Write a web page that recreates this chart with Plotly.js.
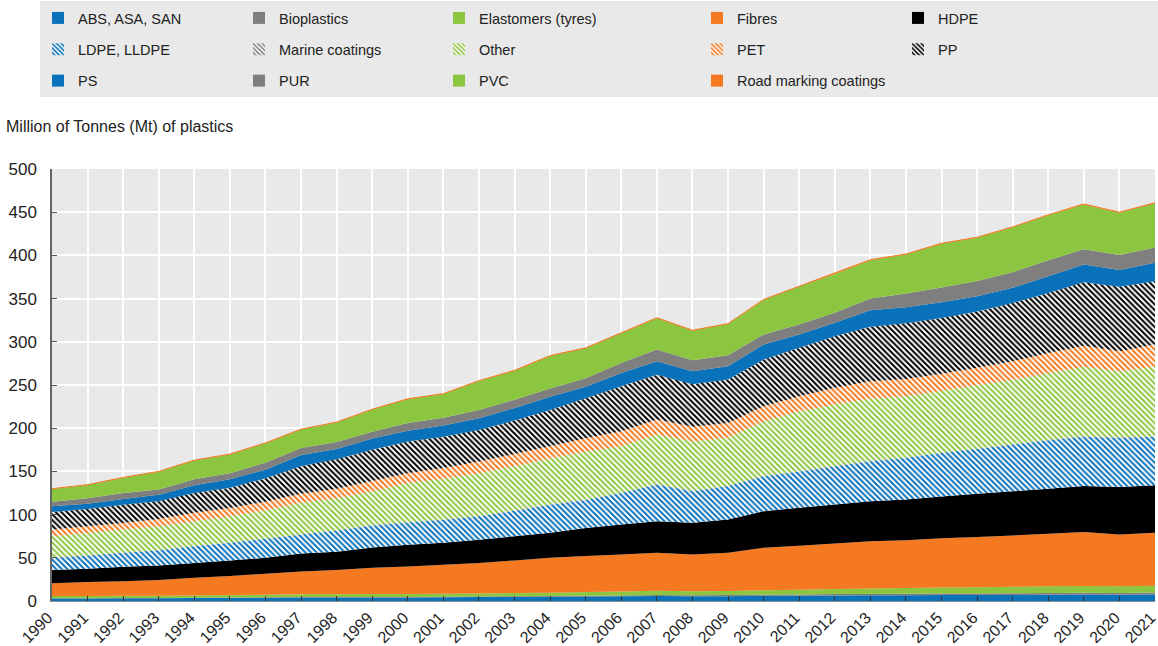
<!DOCTYPE html>
<html>
<head>
<meta charset="utf-8">
<script src="https://cdn.plot.ly/plotly-3.0.1.min.js"></script>
<style>html,body{margin:0;padding:0;background:#fff;}#chart{width:1158px;height:646px;}</style>
</head>
<body>
<div id="chart"></div>
<script>
var years = [1990,1991,1992,1993,1994,1995,1996,1997,1998,1999,2000,2001,2002,2003,2004,2005,2006,2007,2008,2009,2010,2011,2012,2013,2014,2015,2016,2017,2018,2019,2020,2021];

var absAsaSan   = [3.0,3.0,3.2,3.2,3.4,3.6,3.8,4.0,4.0,4.1,4.1,4.3,4.5,4.7,4.9,5.2,5.5,5.9,5.6,5.6,6.0,6.2,6.5,6.6,6.7,6.8,6.9,7.0,7.2,7.4,7.1,7.4];
var bioplastics = [0.3,0.3,0.3,0.3,0.4,0.4,0.4,0.5,0.5,0.5,0.6,0.6,0.7,0.7,0.8,0.9,1.0,1.1,1.1,1.2,1.3,1.4,1.5,1.6,1.7,1.8,1.9,2.0,2.1,2.2,2.2,2.3];
var elastomers  = [2.5,2.5,2.7,2.7,2.7,3.0,3.1,3.2,3.2,3.4,3.3,3.6,3.6,3.8,3.9,4.3,4.5,5.0,4.7,4.8,5.2,5.4,6.0,6.3,6.6,6.9,7.2,7.5,7.7,7.9,7.7,8.0];
var fibres      = [14.6,16.2,16.8,18.0,20.5,22.0,24.2,26.3,28.3,30.5,32.0,33.5,35.2,37.8,40.4,41.6,42.8,43.8,42.4,44.2,49.1,51.0,52.5,54.7,55.4,57.2,58.0,59.3,60.7,62.5,60.0,61.3];
var hdpe        = [15.4,15.3,16.6,16.8,17.0,18.0,18.5,21.0,21.0,23.5,25.0,25.5,27.0,28.0,29.0,32.6,34.7,36.6,36.7,38.5,42.4,44.0,45.2,46.3,47.1,48.3,50.0,51.2,52.3,53.0,55.0,55.0];
var ldpe        = [14.2,15.4,16.2,17.8,19.5,20.3,22.0,22.0,24.5,25.5,26.0,26.5,27.0,29.5,32.5,32.4,36.5,42.4,36.5,38.7,40.5,42.0,44.3,46.3,48.2,50.5,52.0,54.0,56.0,57.0,57.0,56.0];
var marine      = [0.3,0.3,0.3,0.3,0.3,0.3,0.3,0.4,0.4,0.4,0.4,0.4,0.4,0.4,0.4,0.4,0.4,0.5,0.5,0.5,0.5,0.5,0.5,0.5,0.5,0.5,0.5,0.5,0.5,0.6,0.6,0.5];
var other       = [24.7,26.0,26.6,27.4,28.5,30.4,32.7,36.6,37.1,39.1,45.1,47.1,49.6,51.1,53.1,55.6,53.6,57.4,57.5,55.5,63.0,69.2,70.9,72.1,70.8,71.0,73.5,74.5,77.5,80.4,76.4,81.0];
var pet         = [7.7,7.5,7.7,8.5,9.7,9.7,10.0,10.0,11.0,12.0,11.5,12.5,13.5,14.0,14.0,15.5,17.5,17.3,16.6,17.0,17.5,17.3,19.3,20.0,20.0,20.0,20.0,21.5,23.0,24.5,23.0,25.5];
var pp          = [20.3,20.0,21.1,20.4,23.0,23.3,27.0,32.0,34.0,36.0,36.6,36.0,36.5,39.0,42.0,46.1,52.1,52.0,49.4,50.4,54.0,56.0,59.8,63.0,64.6,64.5,65.0,67.5,69.6,73.5,74.6,73.0];
var ps          = [6.6,6.2,6.5,7.6,9.0,10.0,10.0,13.0,12.0,13.0,12.4,13.0,13.5,14.5,15.5,13.4,15.4,15.5,15.0,15.4,17.5,15.4,15.5,19.2,18.4,18.3,17.8,17.5,19.4,20.5,19.4,21.5];
var pur         = [5.4,6.3,7.0,6.0,7.0,7.0,8.0,8.0,8.0,8.0,9.0,9.0,9.5,9.5,9.5,9.7,11.6,13.5,12.7,12.7,11.4,11.6,11.5,13.4,16.0,17.0,17.5,18.0,18.5,17.5,17.5,17.5];
var pvc         = [14.7,15.3,17.7,20.7,21.7,21.7,22.7,21.5,22.6,25.6,27.6,27.6,33.6,33.6,37.6,34.9,34.4,36.3,34.2,36.0,40.1,43.9,45.0,44.5,45.1,50.7,50.2,52.0,52.0,52.0,49.0,51.5];
var roadMarking = [0.3,0.3,0.3,0.3,0.3,0.3,0.3,0.4,0.4,0.4,0.4,0.4,0.4,0.4,0.4,0.4,0.4,0.5,0.5,0.5,0.5,0.5,0.5,0.5,0.5,0.5,0.5,0.5,0.5,0.5,0.5,0.5];

var BLUE = '#0a72ba', GREY = '#7f7f7f', GREEN = '#8cc640', ORANGE = '#f47920', BLACK = '#000000';

var series = [
  {name: 'ABS, ASA, SAN', y: absAsaSan, color: BLUE, hatch: false},
  {name: 'Bioplastics', y: bioplastics, color: GREY, hatch: false},
  {name: 'Elastomers (tyres)', y: elastomers, color: GREEN, hatch: false},
  {name: 'Fibres', y: fibres, color: ORANGE, hatch: false},
  {name: 'HDPE', y: hdpe, color: BLACK, hatch: false},
  {name: 'LDPE, LLDPE', y: ldpe, color: BLUE, hatch: true},
  {name: 'Marine coatings', y: marine, color: GREY, hatch: true},
  {name: 'Other', y: other, color: GREEN, hatch: true},
  {name: 'PET', y: pet, color: ORANGE, hatch: true},
  {name: 'PP', y: pp, color: BLACK, hatch: true},
  {name: 'PS', y: ps, color: BLUE, hatch: false},
  {name: 'PUR', y: pur, color: GREY, hatch: false},
  {name: 'PVC', y: pvc, color: GREEN, hatch: false},
  {name: 'Road marking coatings', y: roadMarking, color: ORANGE, hatch: false}
];

var FONT = 'Liberation Sans, Arial, sans-serif';
var traces = [];
series.forEach(function (s, i) {
  var t = {
    type: 'scatter', x: years, y: s.y, name: s.name,
    stackgroup: 'one', mode: 'none',
    fillcolor: s.color, showlegend: false,
    hovertemplate: s.name + ': %{y}<extra></extra>'
  };
  if (s.hatch) {
    t.fillpattern = {shape: '\\', fgcolor: s.color, bgcolor: '#ffffff', size: 4, solidity: 0.5};
  }
  if (i === series.length - 1) { t.mode = 'lines'; t.line = {color: ORANGE, width: 1}; }
  traces.push(t);
});

// legend entries (5 columns x 3 rows, alphabetical row-wise)
series.forEach(function (s, i) {
  var col = i % 5;
  var m = {color: s.color};
  if (s.hatch) m.pattern = {shape: '\\', fgcolor: s.color, bgcolor: '#ffffff', size: 4, solidity: 0.5};
  traces.push({
    type: 'bar', x: [null], y: [null], name: s.name, marker: m,
    legend: col === 0 ? 'legend' : 'legend' + (col + 1),
    legendgroup: 'g' + i, hoverinfo: 'skip'
  });
});

var PL = 52, PW = 1103, PB = 601, PH = 432;
function px2x(px) { return (px - PL) / PW; }
function px2y(py) { return (PB - py) / PH; }

var colX = [38, 239, 439, 697, 898];
var layout = {
  width: 1158, height: 646,
  paper_bgcolor: '#ffffff', plot_bgcolor: '#e9e9e9',
  margin: {l: 52, r: 3, t: 169, b: 45, autoexpand: false},
  font: {family: FONT, size: 15, color: '#222'},
  xaxis: {
    range: [1990, 2021], tickmode: 'array', tickvals: years, ticktext: years.map(String),
    tickangle: -45, ticklabeloverflow: 'allow', ticklabelshift: -4,
    showgrid: true, gridcolor: '#ffffff', gridwidth: 1.5,
    ticks: 'inside', ticklen: 5, tickcolor: '#333', tickwidth: 1,
    showline: true, linecolor: '#8c8c8c', linewidth: 1,
    tickfont: {size: 16, color: '#222'}, zeroline: false, fixedrange: true, automargin: false
  },
  yaxis: {
    range: [0, 500], dtick: 50, showgrid: true, gridcolor: '#ffffff', gridwidth: 1.5,
    ticks: 'inside', ticklen: 5, tickcolor: '#555', tickwidth: 1,
    showline: true, linecolor: '#666', linewidth: 1.5, ticklabelstandoff: 10,
    tickfont: {size: 17, color: '#222'}, zeroline: false, fixedrange: true, automargin: false
  },
  shapes: [{
    type: 'rect', xref: 'paper', yref: 'paper', layer: 'below',
    x0: px2x(40), x1: px2x(1158), y0: px2y(97), y1: px2y(1),
    fillcolor: '#e9e9e9', line: {width: 0}
  }],
  annotations: [{
    text: 'Million of Tonnes (Mt) of plastics', xref: 'paper', yref: 'paper',
    x: px2x(4), y: px2y(127), xanchor: 'left', yanchor: 'middle', showarrow: false,
    font: {size: 16, color: '#222'}
  }],
  hovermode: 'closest'
};
for (var c = 0; c < 5; c++) {
  var key = c === 0 ? 'legend' : 'legend' + (c + 1);
  layout[key] = {
    x: px2x(colX[c]), y: px2y(2), xref: 'paper', yref: 'paper',
    xanchor: 'left', yanchor: 'top', orientation: 'v',
    bgcolor: 'rgba(0,0,0,0)', borderwidth: 0,
    font: {family: FONT, size: 14.5, color: '#222'},
    tracegroupgap: 9.5, itemclick: false, itemdoubleclick: false
  };
}
Plotly.newPlot('chart', traces, layout, {displayModeBar: false});
</script>
</body>
</html>
